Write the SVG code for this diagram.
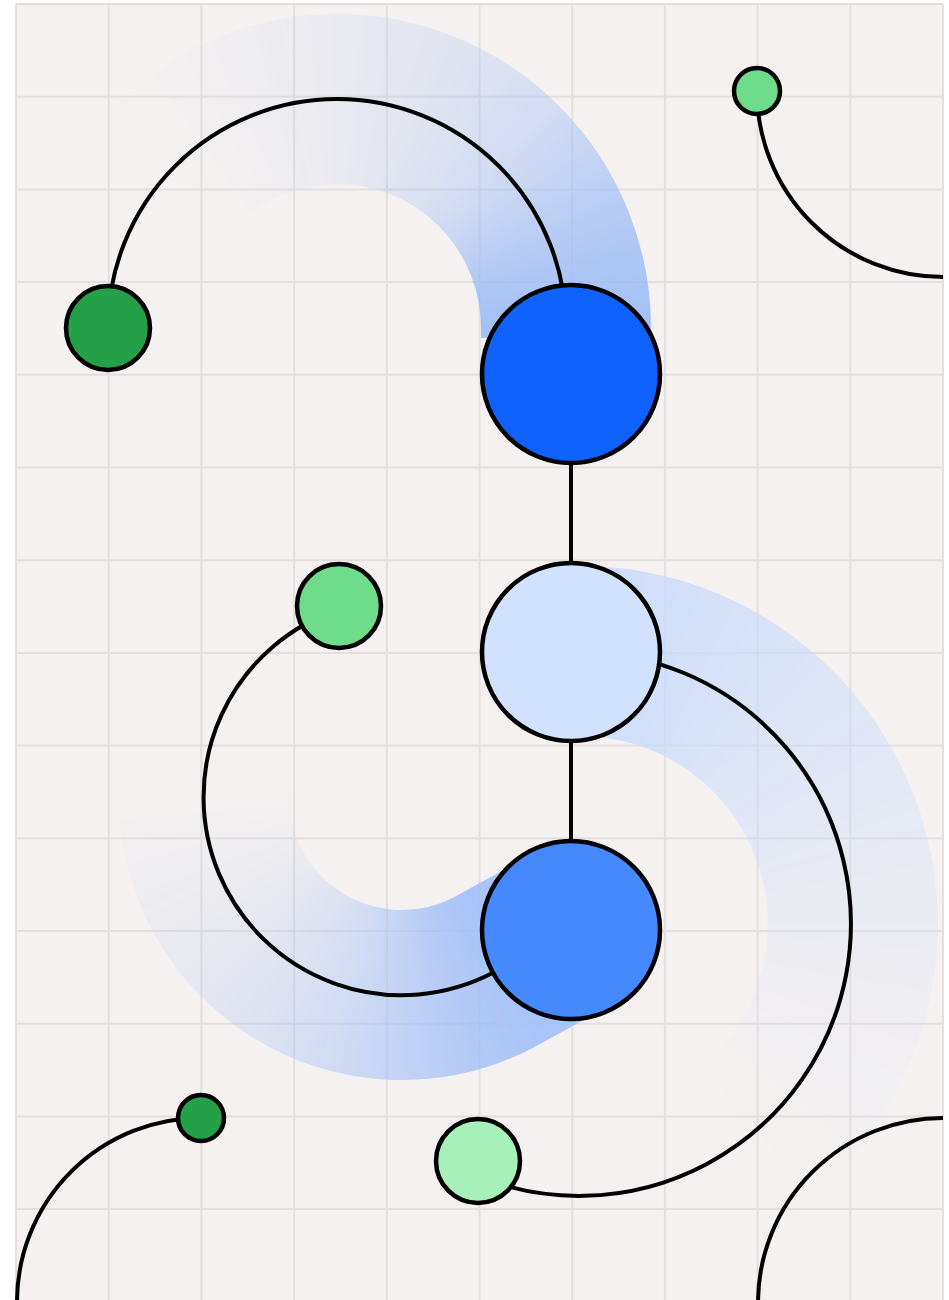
<svg xmlns="http://www.w3.org/2000/svg" width="949" height="1300" viewBox="0 0 949 1300">
<style>
.grid line{stroke:#e4dfde;stroke-width:2}
.band{fill:none;stroke-width:170;stroke-linecap:butt}
.conn{fill:none;stroke:#000;stroke-width:4}
.node{stroke:#000;stroke-width:4.5}
.mk{fill:#fff;shape-rendering:crispEdges}
mask{mask-type:alpha}
</style>
<defs>
<filter id="bl" filterUnits="userSpaceOnUse" x="0" y="0" width="949" height="1300"><feGaussianBlur stdDeviation="6"/></filter>
<path id="w5" d="M0 0 L600 0 L597.72 52.29 Z"/>
<path id="w90" d="M0 0 L600 0 L600 600 L0 600 Z"/>
<mask id="mTop" maskUnits="userSpaceOnUse" x="0" y="0" width="949" height="1300">
<g filter="url(#bl)"><g class="mk" transform="translate(337 328)">
<use href="#w90" fill-opacity="0.92"/>
<use href="#w5" transform="rotate(-5)" fill-opacity="0.9"/>
<use href="#w5" transform="rotate(-10)" fill-opacity="0.86"/>
<use href="#w5" transform="rotate(-15)" fill-opacity="0.82"/>
<use href="#w5" transform="rotate(-20)" fill-opacity="0.77"/>
<use href="#w5" transform="rotate(-25)" fill-opacity="0.7"/>
<use href="#w5" transform="rotate(-30)" fill-opacity="0.63"/>
<use href="#w5" transform="rotate(-35)" fill-opacity="0.57"/>
<use href="#w5" transform="rotate(-40)" fill-opacity="0.5"/>
<use href="#w5" transform="rotate(-45)" fill-opacity="0.43"/>
<use href="#w5" transform="rotate(-50)" fill-opacity="0.38"/>
<use href="#w5" transform="rotate(-55)" fill-opacity="0.33"/>
<use href="#w5" transform="rotate(-60)" fill-opacity="0.29"/>
<use href="#w5" transform="rotate(-65)" fill-opacity="0.26"/>
<use href="#w5" transform="rotate(-70)" fill-opacity="0.23"/>
<use href="#w5" transform="rotate(-75)" fill-opacity="0.2"/>
<use href="#w5" transform="rotate(-80)" fill-opacity="0.18"/>
<use href="#w5" transform="rotate(-85)" fill-opacity="0.16"/>
<use href="#w5" transform="rotate(-90)" fill-opacity="0.14"/>
<use href="#w5" transform="rotate(-95)" fill-opacity="0.12"/>
<use href="#w5" transform="rotate(-100)" fill-opacity="0.1"/>
<use href="#w5" transform="rotate(-105)" fill-opacity="0.085"/>
<use href="#w5" transform="rotate(-110)" fill-opacity="0.07"/>
<use href="#w5" transform="rotate(-115)" fill-opacity="0.055"/>
<use href="#w5" transform="rotate(-120)" fill-opacity="0.04"/>
<use href="#w5" transform="rotate(-125)" fill-opacity="0.03"/>
<use href="#w5" transform="rotate(-130)" fill-opacity="0.02"/>
<use href="#w5" transform="rotate(-135)" fill-opacity="0.01"/>
</g></g>
</mask>
<mask id="mBot" maskUnits="userSpaceOnUse" x="0" y="0" width="949" height="1300">
<g filter="url(#bl)"><g class="mk" transform="translate(402 797)">
<use href="#w90" transform="rotate(-30)" fill-opacity="0.9"/>
<use href="#w5" transform="rotate(60)" fill-opacity="0.88"/>
<use href="#w5" transform="rotate(65)" fill-opacity="0.84"/>
<use href="#w5" transform="rotate(70)" fill-opacity="0.8"/>
<use href="#w5" transform="rotate(75)" fill-opacity="0.75"/>
<use href="#w5" transform="rotate(80)" fill-opacity="0.69"/>
<use href="#w5" transform="rotate(85)" fill-opacity="0.63"/>
<use href="#w5" transform="rotate(90)" fill-opacity="0.57"/>
<use href="#w5" transform="rotate(95)" fill-opacity="0.51"/>
<use href="#w5" transform="rotate(100)" fill-opacity="0.45"/>
<use href="#w5" transform="rotate(105)" fill-opacity="0.4"/>
<use href="#w5" transform="rotate(110)" fill-opacity="0.35"/>
<use href="#w5" transform="rotate(115)" fill-opacity="0.31"/>
<use href="#w5" transform="rotate(120)" fill-opacity="0.27"/>
<use href="#w5" transform="rotate(125)" fill-opacity="0.24"/>
<use href="#w5" transform="rotate(130)" fill-opacity="0.21"/>
<use href="#w5" transform="rotate(135)" fill-opacity="0.18"/>
<use href="#w5" transform="rotate(140)" fill-opacity="0.15"/>
<use href="#w5" transform="rotate(145)" fill-opacity="0.13"/>
<use href="#w5" transform="rotate(150)" fill-opacity="0.11"/>
<use href="#w5" transform="rotate(155)" fill-opacity="0.09"/>
<use href="#w5" transform="rotate(160)" fill-opacity="0.07"/>
<use href="#w5" transform="rotate(165)" fill-opacity="0.05"/>
<use href="#w5" transform="rotate(170)" fill-opacity="0.03"/>
<use href="#w5" transform="rotate(175)" fill-opacity="0.015"/>
<use href="#w5" transform="rotate(180)" fill-opacity="0.005"/>
</g></g>
</mask>
<mask id="mMid" maskUnits="userSpaceOnUse" x="0" y="0" width="949" height="1300">
<g filter="url(#bl)"><g class="mk" transform="translate(578 925)">
<use href="#w90" transform="rotate(180)" fill-opacity="0.95"/>
<use href="#w5" transform="rotate(-90)" fill-opacity="0.93"/>
<use href="#w5" transform="rotate(-85)" fill-opacity="0.89"/>
<use href="#w5" transform="rotate(-80)" fill-opacity="0.84"/>
<use href="#w5" transform="rotate(-75)" fill-opacity="0.79"/>
<use href="#w5" transform="rotate(-70)" fill-opacity="0.74"/>
<use href="#w5" transform="rotate(-65)" fill-opacity="0.7"/>
<use href="#w5" transform="rotate(-60)" fill-opacity="0.65"/>
<use href="#w5" transform="rotate(-55)" fill-opacity="0.61"/>
<use href="#w5" transform="rotate(-50)" fill-opacity="0.57"/>
<use href="#w5" transform="rotate(-45)" fill-opacity="0.52"/>
<use href="#w5" transform="rotate(-40)" fill-opacity="0.48"/>
<use href="#w5" transform="rotate(-35)" fill-opacity="0.45"/>
<use href="#w5" transform="rotate(-30)" fill-opacity="0.41"/>
<use href="#w5" transform="rotate(-25)" fill-opacity="0.38"/>
<use href="#w5" transform="rotate(-20)" fill-opacity="0.34"/>
<use href="#w5" transform="rotate(-15)" fill-opacity="0.31"/>
<use href="#w5" transform="rotate(-10)" fill-opacity="0.28"/>
<use href="#w5" transform="rotate(-5)" fill-opacity="0.25"/>
<use href="#w5" transform="rotate(0)" fill-opacity="0.22"/>
<use href="#w5" transform="rotate(5)" fill-opacity="0.19"/>
<use href="#w5" transform="rotate(10)" fill-opacity="0.16"/>
<use href="#w5" transform="rotate(15)" fill-opacity="0.13"/>
<use href="#w5" transform="rotate(20)" fill-opacity="0.11"/>
<use href="#w5" transform="rotate(25)" fill-opacity="0.085"/>
<use href="#w5" transform="rotate(30)" fill-opacity="0.065"/>
<use href="#w5" transform="rotate(35)" fill-opacity="0.045"/>
<use href="#w5" transform="rotate(40)" fill-opacity="0.028"/>
<use href="#w5" transform="rotate(45)" fill-opacity="0.014"/>
<use href="#w5" transform="rotate(50)" fill-opacity="0.005"/>
</g></g>
</mask>
</defs>
<rect x="0" y="0" width="949" height="1300" fill="#ffffff"/>
<rect x="16" y="4" width="927" height="1300" fill="#f5f1f0"/>
<g class="grid">
<line x1="16" y1="4" x2="16" y2="1300"/>
<line x1="108.7" y1="4" x2="108.7" y2="1300"/>
<line x1="201.4" y1="4" x2="201.4" y2="1300"/>
<line x1="294.1" y1="4" x2="294.1" y2="1300"/>
<line x1="386.8" y1="4" x2="386.8" y2="1300"/>
<line x1="479.5" y1="4" x2="479.5" y2="1300"/>
<line x1="572.2" y1="4" x2="572.2" y2="1300"/>
<line x1="664.9" y1="4" x2="664.9" y2="1300"/>
<line x1="757.6" y1="4" x2="757.6" y2="1300"/>
<line x1="850.3" y1="4" x2="850.3" y2="1300"/>
<line x1="943" y1="4" x2="943" y2="1300"/>
<line x1="16" y1="4" x2="943" y2="4"/>
<line x1="16" y1="96.7" x2="943" y2="96.7"/>
<line x1="16" y1="189.4" x2="943" y2="189.4"/>
<line x1="16" y1="282.1" x2="943" y2="282.1"/>
<line x1="16" y1="374.8" x2="943" y2="374.8"/>
<line x1="16" y1="467.5" x2="943" y2="467.5"/>
<line x1="16" y1="560.2" x2="943" y2="560.2"/>
<line x1="16" y1="652.9" x2="943" y2="652.9"/>
<line x1="16" y1="745.6" x2="943" y2="745.6"/>
<line x1="16" y1="838.3" x2="943" y2="838.3"/>
<line x1="16" y1="931" x2="943" y2="931"/>
<line x1="16" y1="1023.7" x2="943" y2="1023.7"/>
<line x1="16" y1="1116.4" x2="943" y2="1116.4"/>
<line x1="16" y1="1209.1" x2="943" y2="1209.1"/>
</g>
<g id="bands">
<path class="band" stroke="#9cbcf6" mask="url(#mTop)" d="M 108 328 A 229 229 0 0 1 566 328 L 566 338"/>
<path class="band" stroke="#a0bff9" mask="url(#mBot)" d="M 571 930 L 493.4 972.6 A 198 198 0 0 1 207 762.6"/>
<path class="band" stroke="#c9dbfc" stroke-width="178" mask="url(#mMid)" d="M 575 651 A 273 273 0 0 1 714.5 1161.4"/>
</g>
<g id="connectors">
<path class="conn" d="M 108 328 A 229 229 0 0 1 566 328 L 571 374"/>
<path class="conn" d="M 757 91 A 186 186 0 0 0 943 277"/>
<path class="conn" d="M 571 374 L 571 930"/>
<path class="conn" d="M 340 609 A 198 198 0 1 0 493.4 972.6 L 571 930"/>
<path class="conn" d="M 571 652 A 272 272 0 1 1 472 1174 L 478 1161"/>
<path class="conn" d="M 201 1118 A 184 184 0 0 0 17 1302"/>
<path class="conn" d="M 943 1118 A 185 185 0 0 0 758 1303"/>
</g>
<g id="node-blue"><circle class="node" cx="571" cy="374" r="89" fill="#0f62fe"/></g>
<g id="node-lightblue"><circle class="node" cx="571" cy="652" r="89" fill="#d0e2ff"/></g>
<g id="node-midblue"><circle class="node" cx="571" cy="930" r="89" fill="#4589ff"/></g>
<g id="node-green-a"><circle class="node" cx="108" cy="328" r="42" fill="#24a148"/></g>
<g id="node-green-b"><circle class="node" cx="757" cy="91" r="23" fill="#6fdc8c"/></g>
<g id="node-green-c"><circle class="node" cx="339" cy="606" r="42" fill="#6fdc8c"/></g>
<g id="node-green-d"><circle class="node" cx="201" cy="1118" r="23" fill="#24a148"/></g>
<g id="node-green-e"><circle class="node" cx="478" cy="1161" r="42" fill="#a7f0ba"/></g>
</svg>
